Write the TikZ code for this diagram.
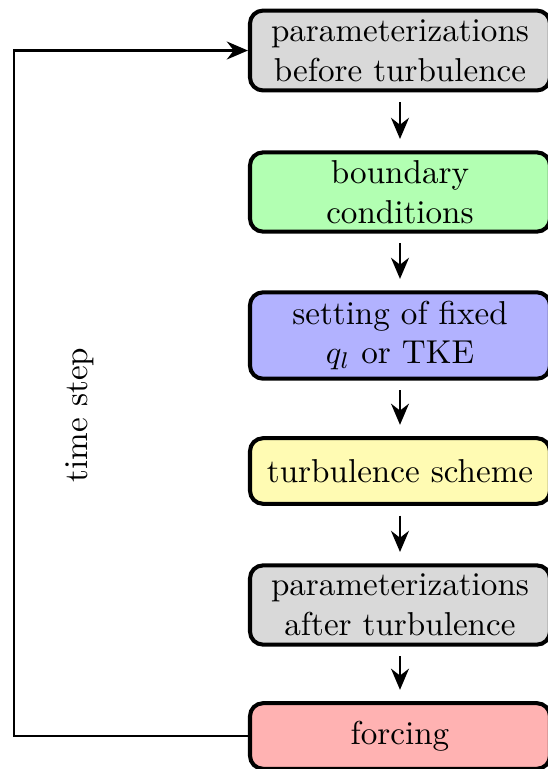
\documentclass[tikz,border=0pt]{standalone}
\usetikzlibrary{arrows.meta}
\begin{document}
\begin{tikzpicture}[x=0.308pt,y=-0.308pt,
  every node/.style={font=\fontsize{10.2pt}{12.3pt}\selectfont},
  stage/.style={draw, line width=1.25pt, rounded corners=4pt, align=center,
    minimum width=92.4pt, inner sep=2pt},
  flow/.style={-{Stealth[length=6.5pt,width=5.5pt]}, line width=0.9pt},
]
\useasboundingbox (0,0) rectangle (548,769);

\node[stage, fill=gray!30,   minimum height=24.6pt] (pre)  at (400,50.5) {parameterizations\\before turbulence};
\node[stage, fill=green!30,  minimum height=24.4pt] (bc)   at (400,192)  {boundary\\conditions};
\node[stage, fill=blue!30,   minimum height=26.6pt] (fix)  at (400,335.5) {setting of fixed\\$q_l$ or TKE};
\node[stage, fill=yellow!30, minimum height=20.2pt] (turb) at (400,471)  {turbulence scheme};
\node[stage, fill=gray!30,   minimum height=24.4pt] (post) at (400,605)  {parameterizations\\after turbulence};
\node[stage, fill=red!30,    minimum height=20.2pt] (frc)  at (400,736)  {forcing};

\foreach \a/\b in {pre/bc, bc/fix, fix/turb, turb/post, post/frc}
  \draw[flow, shorten <=3pt, shorten >=3.5pt] (\a) -- (\b);

% loop back to the start of the next time step
\draw[flow] (frc.west) -- ++(-234,0) |- (pre.west);
\node[rotate=90] (ts) at (80,415) {time step};
\end{tikzpicture}
\end{document}
